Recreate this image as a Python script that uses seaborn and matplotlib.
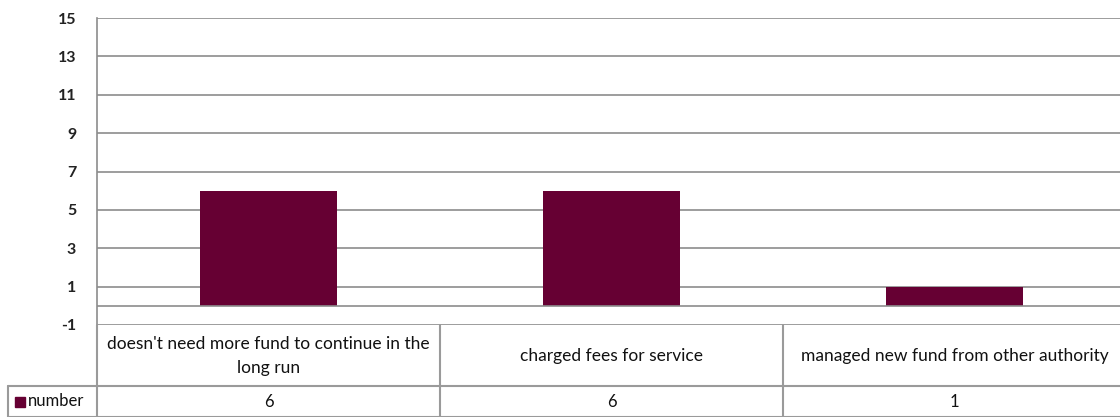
import numpy as np
import pandas as pd
import matplotlib
matplotlib.use("Agg")
import matplotlib.pyplot as plt
import matplotlib.transforms as mtransforms
from matplotlib.lines import Line2D
from matplotlib.patches import Rectangle
import seaborn as sns

categories = ["doesn't need more fund to continue in the\nlong run",
              "charged fees for service",
              "managed new fund from other authority"]
values = [6, 6, 1]
series_name = "number"
yticks = [-1, 1, 3, 5, 7, 9, 11, 13, 15]

bar_color = "#660033"
grid_color = "#8c8c8c"
text_color = "#111111"

sns.set_style("white")
plt.rcParams["font.family"] = ["Lato", "DejaVu Sans"]

W, H = 1120, 417
fig = plt.figure(figsize=(W / 100, H / 100), dpi=100)

# plot area in pixels: left 97, right ~1126 (runs past the edge), top 18, bottom 325
ax = fig.add_axes([97 / W, (H - 325) / H, (1126 - 97) / W, (325 - 18) / H])

df = pd.DataFrame({"cat": categories, "val": values})
sns.barplot(data=df, x="cat", y="val", color=bar_color, width=0.4,
            saturation=1, linewidth=0, ax=ax, zorder=3)

ax.set_xlim(-0.5, 2.5)
ax.set_ylim(-1, 15)
ax.set_yticks(yticks)
ax.set_yticklabels([str(t) for t in yticks], fontsize=11.5,
                   fontweight="bold", color="#222222")
ax.tick_params(axis="y", length=0, pad=15)
ax.set_xticks([])
ax.set_xlabel("")
ax.set_ylabel("")
for t in yticks:
    ax.axhline(t, color=grid_color, lw=1.2, zorder=1)
ax.axhline(0, color=grid_color, lw=1.2, zorder=4)

for s in ["top", "right", "bottom"]:
    ax.spines[s].set_visible(False)
ax.spines["left"].set_color(grid_color)
ax.spines["left"].set_linewidth(1.2)

# data table under the plot
def fy(py):
    return (H - py) / H

def fx(px):
    return px / W

trans = mtransforms.blended_transform_factory(ax.transData, fig.transFigure)
lk = dict(color="#9a9a9a", lw=1.5, transform=fig.transFigure)

fig.add_artist(Line2D([fx(8), 1], [fy(386), fy(386)], **lk))
fig.add_artist(Line2D([fx(8), 1], [fy(416.5), fy(416.5)], **lk))
fig.add_artist(Line2D([fx(8), fx(8)], [fy(386), fy(417)], **lk))
fig.add_artist(Line2D([fx(97), fx(97)], [fy(325), fy(417)], **lk))
for i in range(1, len(categories)):
    xb = ax.transData.transform((i - 0.5, 0))[0] / fig.dpi / fig.get_figwidth()
    fig.add_artist(Line2D([xb, xb], [fy(325), fy(417)], **lk))

for i, (c, v) in enumerate(zip(categories, values)):
    t1 = fig.text(0, 0, c, transform=trans, fontsize=12.5, color=text_color,
                  ha="center", va="center", linespacing=1.6)
    t1.set_position((i, fy(356)))
    t2 = fig.text(0, 0, str(v), transform=trans, fontsize=12, color=text_color,
                  ha="center", va="center")
    t2.set_position((i, fy(402)))

fig.add_artist(Rectangle((fx(15), fy(407)), fx(10), (10 / H),
                         color=bar_color, transform=fig.transFigure))
fig.text(fx(28), fy(401.5), series_name, fontsize=12, color=text_color,
         ha="left", va="center")

fig.savefig("out.png", dpi=100, facecolor="white")
